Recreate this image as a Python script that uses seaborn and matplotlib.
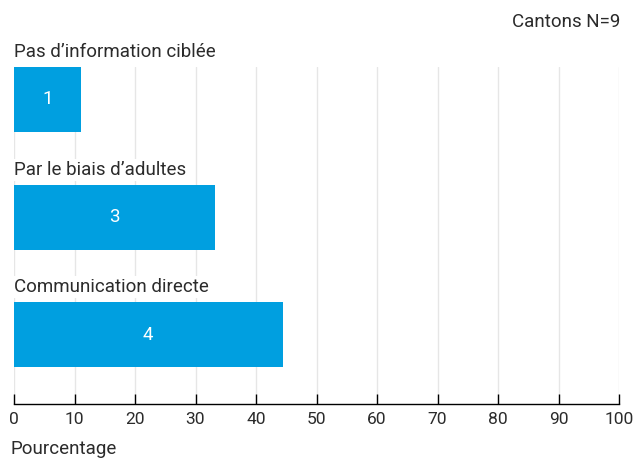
import pandas as pd
import seaborn as sns
import matplotlib.pyplot as plt

categories = ["Pas d\u2019information ciblée", "Par le biais d\u2019adultes", "Communication directe"]
percent = [11.1, 33.3, 44.4]
counts = [1, 3, 4]
ticks = list(range(0, 101, 10))

df = pd.DataFrame({"categorie": categories, "pourcentage": percent})

sns.set_theme(style="white")
plt.rcParams["font.family"] = ["Roboto", "DejaVu Sans"]

txt = dict(fontsize=13.5, color="#2b2b2b")

fig = plt.figure(figsize=(6.33, 4.59), dpi=100)
ax = fig.add_axes([14 / 633, 55 / 459, 605 / 633, 337 / 459])

bar_h = 0.553
sns.barplot(data=df, y="categorie", x="pourcentage", orient="h",
            color="#009fe0", saturation=1, width=bar_h, linewidth=0, ax=ax)

ax.bar_label(ax.containers[0], labels=[str(c) for c in counts],
             label_type="center", color="white", fontsize=13.5)

for i, cat in enumerate(categories):
    ax.text(0, i - bar_h / 2 - 0.125, cat, ha="left", va="center",
            clip_on=False, zorder=5,
            bbox=dict(facecolor="white", edgecolor="none", pad=1.5), **txt)

ax.set_xlim(0, 100)
ax.set_ylim(2.591, -bar_h / 2)
ax.set_xticks(ticks)
ax.set_yticks([])
ax.grid(axis="x", color="#e6e6e6", linewidth=1)
ax.set_axisbelow(True)
for s in ["left", "top", "right"]:
    ax.spines[s].set_visible(False)
ax.spines["bottom"].set_color("black")
ax.spines["bottom"].set_linewidth(1)
ax.tick_params(axis="x", direction="in", length=7, width=1, color="black",
               labelsize=12.5, labelcolor="#2b2b2b", pad=6, bottom=True)
ax.set_xlabel("")
ax.set_ylabel("")

fig.text(620 / 633, 1 - 22 / 459, "Cantons N=9", ha="right", va="center", **txt)
fig.text(10 / 633, 1 - 449 / 459, "Pourcentage", ha="left", va="center", **txt)

fig.savefig("out.png", dpi=100)
